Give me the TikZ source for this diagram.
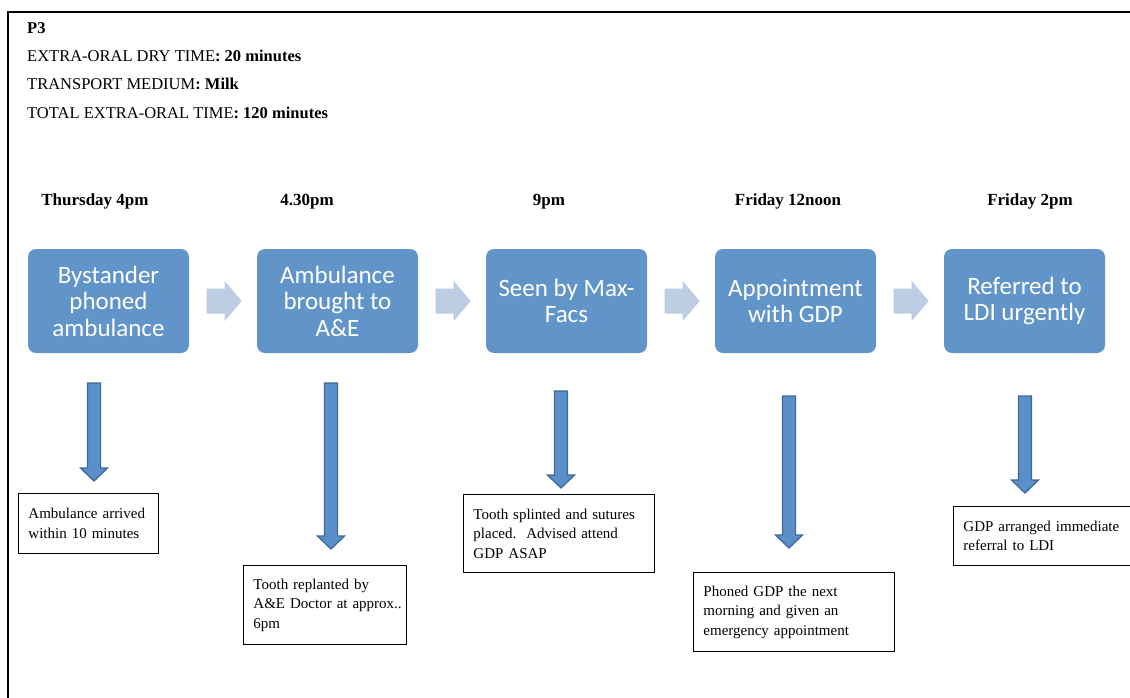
\documentclass[tikz,border=0pt]{standalone}
\usepackage{fontspec}
\setmainfont{Liberation Serif}
\newfontfamily\boxfont{Carlito}
\usetikzlibrary{calc}
\definecolor{stepblue}{RGB}{97,149,201}
\definecolor{chevblue}{RGB}{188,205,228}
\definecolor{arrowblue}{RGB}{91,143,201}
\definecolor{arrowedge}{RGB}{62,106,156}

\begin{document}
\begin{tikzpicture}[x=1pt, y=-1pt,
    hdr/.style={anchor=base west, inner sep=0pt, font=\fontsize{16.5}{19}\selectfont},
    timelbl/.style={anchor=base, inner sep=0pt, font=\bfseries\fontsize{17}{20}\selectfont},
    stepbox/.style={rectangle, rounded corners=8pt, fill=stepblue, text=white, align=center,
        minimum width=161pt, minimum height=104pt, inner sep=0pt, font=\boxfont\fontsize{25}{26.5}\selectfont},
    chevron/.style={fill=chevblue},
    downarrow/.style={fill=arrowblue, draw=arrowedge, line width=1.3pt},
    notebox/.style={draw, line width=0.9pt, anchor=north west, align=left, inner xsep=10pt, inner ysep=0pt,
        font=\fontsize{15}{19.5}\selectfont}]%
        \useasboundingbox (0,0) rectangle (1130,697);
        \draw [line width=1.6pt] (8,720) -- (8,12) -- (1150,12);
        \node [hdr] (title) at (27,33) {\textbf{P3}};
        \node [hdr] (dry) at (27,61) {EXTRA-ORAL DRY TIME\textbf{: 20 minutes}};
        \node [hdr] (medium) at (27,89) {TRANSPORT MEDIUM\textbf{: Milk}};
        \node [hdr] (total) at (27,118) {TOTAL EXTRA-ORAL TIME\textbf{: 120 minutes}};
        \foreach \i/\x/\when in {1/95/Thursday 4pm, 2/307/4.30pm, 3/549/9pm, 4/788/Friday 12noon, 5/1030/Friday 2pm} {
            \node [timelbl] (t\i) at (\x,205) {\when};
        }
        \foreach \i/\x/\what in {1/108.5/Bystander\\phoned\\ambulance, 2/337.5/Ambulance\\brought to\\A\&E, 3/566.5/Seen by Max-\\Facs, 4/795.5/Appointment\\with GDP, 5/1024.5/Referred to\\LDI urgently} {
            \node [stepbox] (b\i) at (\x,301) {\what};
        }
        \foreach \a/\b in {1/2, 2/3, 3/4, 4/5} {
            \fill [chevron] ($(b\a.east)+(17.5,-12.5)$) -- ++(18,0) -- ++(0,-7.5) -- ++(17,20) -- ++(-17,20) -- ++(0,-7.5) -- ++(-18,0) -- cycle;
        }
        \foreach \i/\x/\yt/\yb in {1/94/383/481, 2/331/383/549, 3/561/391/488, 4/789/396/548, 5/1025/396/493} {
            \coordinate (top\i) at (\x,\yt);
            \coordinate (tip\i) at (\x,\yb);
            \draw [downarrow] ($(top\i)+(-6.5,0)$) -- ($(tip\i)+(-6.5,-13)$) -- ($(tip\i)+(-13.5,-13)$) -- (tip\i)
                -- ($(tip\i)+(13.5,-13)$) -- ($(tip\i)+(6.5,-13)$) -- ($(top\i)+(6.5,0)$) -- cycle;
        }
        \node [notebox, minimum width=140pt, minimum height=60pt, text width=120pt] (n1) at (18,493) {Ambulance arrived\\within 10 minutes};
        \node [notebox, minimum width=163pt, minimum height=79pt, text width=143pt] (n2) at (243,565) {Tooth replanted by\\\mbox{A\&E Doctor at approx..}\\6pm};
        \node [notebox, minimum width=191pt, minimum height=78pt, text width=171pt] (n3) at (463,494) {Tooth splinted and sutures\\placed.\ \ Advised attend\\GDP ASAP};
        \node [notebox, minimum width=201pt, minimum height=79pt, text width=181pt] (n4) at (693,572) {Phoned GDP the next\\morning and given an\\emergency appointment};
        \node [notebox, minimum width=177pt, minimum height=59pt, text width=157pt] (n5) at (953,506) {GDP arranged immediate\\referral to LDI};
    \end{tikzpicture}
\end{document}
